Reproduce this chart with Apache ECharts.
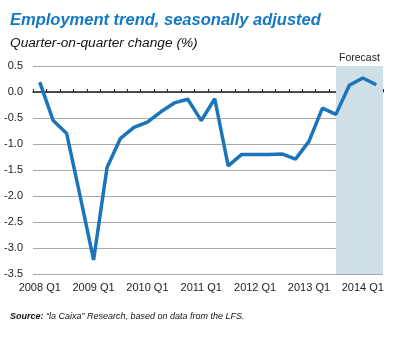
<!DOCTYPE html>
<html><head><meta charset="utf-8">
<script src="https://cdn.jsdelivr.net/npm/echarts@6/dist/echarts.min.js"></script>
<style>html,body{margin:0;padding:0;background:#fff}#c{width:406px;height:338px}</style>
</head><body><div id="c"></div>
<script>
var quarters = ['2008 Q1','2008 Q2','2008 Q3','2008 Q4','2009 Q1','2009 Q2','2009 Q3','2009 Q4',
  '2010 Q1','2010 Q2','2010 Q3','2010 Q4','2011 Q1','2011 Q2','2011 Q3','2011 Q4',
  '2012 Q1','2012 Q2','2012 Q3','2012 Q4','2013 Q1','2013 Q2','2013 Q3','2013 Q4',
  '2014 Q1','2014 Q2'];
var employment = [0.19,-0.55,-0.80,-2.0,-3.23,-1.45,-0.89,-0.68,
  -0.58,-0.38,-0.21,-0.14,-0.55,-0.13,-1.42,-1.20,
  -1.20,-1.20,-1.19,-1.29,-0.95,-0.31,-0.43,0.13,
  0.27,0.14];
var forecastStart = '2013 Q3';
var yMin = -3.5, yMax = 0.5, yStep = 0.5;
var titleText = 'Employment trend, seasonally adjusted';
var subtitleText = 'Quarter-on-quarter change (%)';
var forecastLabel = 'Forecast';

var chart = echarts.init(document.getElementById('c'), null, {renderer:'canvas'});
chart.setOption({
  animation:false,
  backgroundColor:'#fff',
  title:[{
    text:titleText, left:5, top:7,
    textStyle:{fontFamily:'Liberation Sans', fontStyle:'italic', fontWeight:'bold', fontSize:16.5, color:'#1479c4'}
  },{
    text:subtitleText, left:5, top:31,
    textStyle:{fontFamily:'Liberation Sans', fontStyle:'italic', fontWeight:'normal', fontSize:13.7, color:'#111'}
  },{
    text:'{b|Source:} “la Caixa” Research, based on data from the LFS.', left:5, top:307,
    textStyle:{fontFamily:'Liberation Sans', fontStyle:'italic', fontWeight:'normal', fontSize:9, color:'#111',
      rich:{b:{fontFamily:'Liberation Sans', fontStyle:'italic', fontWeight:'bold', fontSize:9, color:'#111'}}}
  }],
  grid:{left:33, right:23, top:66, bottom:64, containLabel:false},
  xAxis:[{
    type:'category', data:quarters, boundaryGap:true, position:'bottom',
    axisLine:{show:false, onZero:false}, axisTick:{show:false},
    axisLabel:{interval:3, color:'#222', fontFamily:'Liberation Sans', fontSize:11, margin:8}
  },{
    type:'category', data:quarters, boundaryGap:true, position:'top',
    axisLine:{show:true, onZero:true, onZeroAxisIndex:0, lineStyle:{color:'#222', width:1.5}},
    axisTick:{show:true, inside:false, length:3, interval:0, lineStyle:{color:'#222', width:1}},
    axisLabel:{show:false}, splitLine:{show:false}
  }],
  yAxis:{
    type:'value', min:yMin, max:yMax, interval:yStep,
    axisLine:{show:false}, axisTick:{show:false},
    splitLine:{lineStyle:{color:'#a8a8a8', width:1}},
    axisLabel:{color:'#222', fontFamily:'Liberation Sans', fontSize:11, margin:10,
      formatter:function(v){return v.toFixed(1);}}
  },
  series:[{
    type:'line', data:employment, xAxisIndex:0, symbol:'none',
    lineStyle:{color:'#1b75bc', width:3.5}, z:5,
    markArea:{
      silent:true,
      itemStyle:{color:'#d0dee7'},
      label:{show:true, position:'top', distance:2, color:'#222', fontFamily:'Liberation Sans', fontSize:10.5, formatter:forecastLabel},
      data:[[{xAxis:forecastStart},{}]]
    }
  }]
});
</script></body></html>
